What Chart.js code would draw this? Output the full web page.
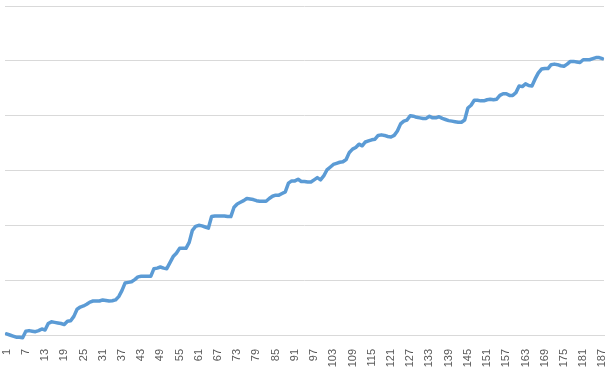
<!DOCTYPE html>
<html>
<head>
<meta charset="utf-8">
<script src="https://cdn.jsdelivr.net/npm/chart.js@4/dist/chart.umd.min.js"></script>
<style>
html,body{margin:0;padding:0;background:#fff;}
canvas{display:block;}
</style>
</head>
<body>
<canvas id="c" width="612" height="375"></canvas>
<script>
// Categories (1..187) and tick labels shown every 6th
const categories = Array.from({length: 187}, (_, i) => String(i + 1));
const shownTickLabels = ["1","7","13","19","25","31","37","43","49","55","61","67","73","79","85","91","97","103","109","115","121","127","133","139","145","151","157","163","169","175","181","187"];

// Series values
const seriesValues = [
  0.2, 0.0, -0.2, -0.4, -0.4, -0.5, 0.7, 0.8, 0.7, 0.6,
  0.8, 1.1, 0.9, 2.1, 2.4, 2.3, 2.2, 2.1, 1.9, 2.5,
  2.6, 3.4, 4.7, 5.1, 5.3, 5.6, 6.0, 6.2, 6.2, 6.2,
  6.4, 6.3, 6.2, 6.25, 6.4, 7.0, 8.1, 9.5, 9.6, 9.7,
  10.1, 10.6, 10.7, 10.7, 10.7, 10.7, 12.1, 12.2, 12.4, 12.2,
  12.1, 13.2, 14.3, 14.9, 15.8, 15.8, 15.8, 16.9, 19.1, 19.8,
  20.0, 19.9, 19.7, 19.5, 21.6, 21.7, 21.7, 21.7, 21.7, 21.6,
  21.6, 23.3, 23.9, 24.2, 24.5, 24.9, 24.8, 24.7, 24.5, 24.4,
  24.4, 24.4, 24.9, 25.3, 25.5, 25.5, 25.8, 26.1, 27.7, 28.1,
  28.1, 28.4, 28.0, 28.0, 27.9, 27.9, 28.3, 28.7, 28.3, 29.0,
  30.1, 30.6, 31.1, 31.3, 31.5, 31.6, 32.0, 33.3, 33.9, 34.2,
  34.8, 34.5, 35.2, 35.4, 35.6, 35.7, 36.4, 36.5, 36.4, 36.2,
  36.1, 36.4, 37.2, 38.5, 39.0, 39.2, 40.0, 39.9, 39.7, 39.6,
  39.5, 39.5, 39.9, 39.6, 39.6, 39.8, 39.5, 39.3, 39.1, 39.0,
  38.9, 38.8, 38.8, 39.2, 41.4, 41.9, 42.8, 42.8, 42.7, 42.7,
  42.9, 43.0, 42.9, 43.0, 43.7, 44.0, 44.0, 43.7, 43.7, 44.2,
  45.4, 45.3, 45.8, 45.5, 45.4, 46.7, 47.8, 48.5, 48.6, 48.6,
  49.3, 49.4, 49.3, 49.1, 49.0, 49.4, 49.9, 49.9, 49.8, 49.7,
  50.2, 50.2, 50.2, 50.4, 50.6, 50.6, 50.4
];

// Y axis range and gridline step
const yMin = 0, yMax = 60, yStep = 10;

new Chart(document.getElementById('c'), {
  type: 'line',
  data: {
    labels: categories,
    datasets: [{
      data: seriesValues,
      borderColor: '#5b9bd5',
      borderWidth: 3.5,
      pointRadius: 0,
      tension: 0,
      borderJoinStyle: 'round',
      borderCapStyle: 'round',
      fill: false,
      clip: false
    }]
  },
  options: {
    responsive: false,
    devicePixelRatio: 1,
    animation: false,
    layout: { padding: { left: 5, right: 8, top: 6, bottom: 0 } },
    plugins: { legend: { display: false }, tooltip: { enabled: false } },
    scales: {
      x: {
        offset: true,
        grid: { display: false },
        border: { display: true, color: '#d9d9d9', width: 1 },
        ticks: {
          autoSkip: false,
          maxRotation: 90,
          minRotation: 90,
          padding: 6,
          color: '#595959',
          font: { family: 'Liberation Sans', size: 11 },
          callback: function(v, i) {
            const lab = categories[i];
            return shownTickLabels.includes(lab) ? lab : '';
          }
        },
        afterFit: function(scale) {
          scale.height = 40;
          scale.paddingLeft = 0;
          scale.paddingRight = 0;
        }
      },
      y: {
        min: yMin,
        max: yMax,
        ticks: { display: false, stepSize: yStep },
        grid: { color: '#d9d9d9', lineWidth: 1, drawTicks: false },
        border: { display: false },
        afterFit: function(scale) { scale.width = 0; }
      }
    }
  }
});
</script>
</body>
</html>
